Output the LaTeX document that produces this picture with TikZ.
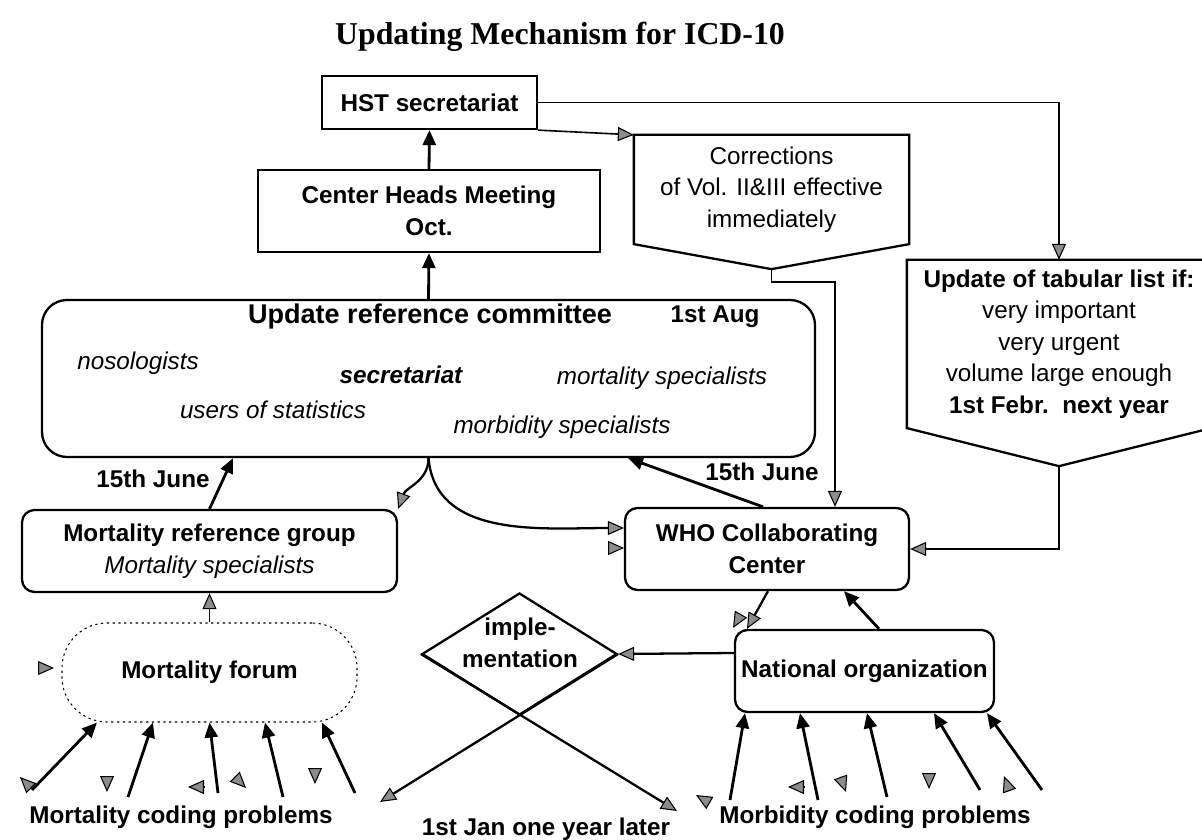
\documentclass[tikz,border=0pt]{standalone}
\usepackage{fontspec}
\setmainfont{Liberation Sans}
\newfontfamily\titlefont{Liberation Serif}
\usetikzlibrary{arrows.meta,shapes.geometric,calc}
\tikzset{box/.style={
            draw,
            line width=1.3pt,
            inner sep=0pt,
            align=center,
            font=\bfseries
        },
        roundbox/.style={
            box,
            rounded corners=0.25cm
        },
        txt/.style={
            inner sep=0pt,
            align=center,
            font=\bfseries
        },
        member/.style={
            inner sep=0pt,
            font=\itshape
        },
        arrowline/.style={
            line width=1.6pt,
            -{Triangle[length=3mm,width=2.6mm]}
        },
        hatchline/.style={
            line width=0.9pt,
            -{Triangle[length=3.2mm,width=2.8mm,fill=black!45,line width=0.6pt]}
        }
    }

\begin{document}
\fontsize{13.8}{18}\selectfont
\begin{tikzpicture}[x=0.2mm,y=0.2mm]
        \useasboundingbox (0,0) rectangle (1202,-840);
        \node[font=\titlefont\fontsize{18.1}{22}\selectfont\bfseries] (title) at (560,-37) {Updating Mechanism for ICD-10};

        % top of the chain
        \node[box,minimum width=4.3cm,minimum height=1.06cm] (hst) at (429.5,-102.5) {HST secretariat};
        \node[box,minimum width=6.84cm,minimum height=1.64cm] (chm) at (429,-211) {Center Heads Meeting\\Oct.};
        \node[box,draw=none,font=\mdseries,minimum width=5.46cm,minimum height=2.14cm] (corr) at (771.5,-189.5) {Corrections\\of Vol. II\&III effective\\immediately};
        \coordinate (corrtip) at ([yshift=-0.5cm]corr.south);
        \draw[line width=1.3pt] (corr.north west) -- (corr.north east) -- (corr.south east) -- (corrtip) -- (corr.south west) -- cycle;
        \node[box,draw=none,font=\mdseries,minimum width=6.04cm,minimum height=3.32cm] (tab) at (1059,-344) {\textbf{Update of tabular list if:}\\very important\\very urgent\\volume large enough\\\textbf{1st Febr.\ \ next year}};
        \coordinate (tabtip) at ([yshift=-0.76cm]tab.south);
        \draw[line width=1.3pt] (tab.north west) -- (tab.north east) -- (tab.south east) -- (tabtip) -- (tab.south west) -- cycle;

        % committee
        \node[roundbox,rounded corners=0.5cm,minimum width=15.46cm,minimum height=3.14cm] (urc) at (428.5,-378.5) {};
        \node[txt,font=\bfseries\fontsize{15.4}{18}\selectfont] (urctitle) at (430,-317) {Update reference committee};
        \node[txt] (urcdate) at (715,-317) {1st Aug};
        \node[member] (noso) at (138,-363) {nosologists};
        \node[member,font=\bfseries\itshape] (secr) at (401,-375) {secretariat};
        \node[member] (mort) at (662,-378) {mortality specialists};
        \node[member] (users) at (273,-410) {users of statistics};
        \node[member] (morb) at (562,-427) {morbidity specialists};

        \node[roundbox,minimum width=7.5cm,minimum height=1.64cm] (mrg) at (209.5,-551) {Mortality reference group\\{\mdseries\itshape Mortality specialists}};
        \node[roundbox,dotted,line width=0.6pt,rounded corners=0.9cm,minimum width=5.9cm,minimum height=1.98cm] (forum) at (209.5,-672.5) {Mortality forum};
        \node[roundbox,minimum width=5.68cm,minimum height=1.64cm] (who) at (767,-549) {WHO Collaborating\\Center};
        \node[roundbox,minimum width=5.18cm,minimum height=1.64cm] (nat) at (864.5,-671) {National organization};
        \node[diamond,draw,line width=1.3pt,inner sep=0pt,minimum width=3.9cm,minimum height=2.44cm] (impl) at (519.5,-654) {};
        \node[txt] (impltext) at (520,-643) {imple-\\mentation};

        \node[txt] (junemrg) at (153,-479) {15th June};
        \node[txt] (junewho) at (762,-472) {15th June};
        \node[txt] (mortprob) at (181,-817) {Mortality coding problems};
        \node[txt] (morbprob) at (875,-817) {Morbidity coding problems};
        \node[txt] (later) at (546,-829) {1st Jan one year later};

        % connectors
        \draw[arrowline] (chm.north) -- (hst.south);
        \draw[arrowline] (urc.north) -- (chm.south);
        \draw[hatchline] (hst.east) -| (tab.north);
        \draw[hatchline] (hst.south east) -- (corr.north west);
        \coordinate (corrbend) at (835,-282);
        \draw[hatchline] (corrtip) |- (corrbend) -- (corrbend |- who.north);
        \draw[hatchline] (tabtip) |- (who.east);
        \draw[arrowline] (mrg.north) -- ([xshift=-3.91cm]urc.south);
        \draw[arrowline] ([xshift=-0.08cm]who.north) -- ([xshift=3.99cm]urc.south);
        \draw[hatchline,line width=1.3pt] (urc.south) to[out=-90,in=70] (mrg.north east);
        \draw[hatchline,line width=1.3pt] (urc.south) to[out=-85,in=180] ([yshift=0.42cm]who.west);
        \draw[hatchline] (forum.north) -- (mrg.south);
        \draw[hatchline,line width=1.3pt] ([yshift=0.36cm]nat.west) -- (impl.east);
        \draw[hatchline,line width=1.3pt] ([xshift=0.02cm]who.south) -- ([xshift=-2.35cm]nat.north);
        \draw[arrowline] ([xshift=0.29cm]nat.north) -- ([xshift=1.54cm]who.south);
        \coordinate (janleft) at (380,-802);
        \coordinate (janright) at (677,-811);
        \draw[hatchline,line width=1.3pt] (impl.east) -- (janleft);
        \draw[hatchline,line width=1.3pt] (impl.west) -- (janright);

        \foreach \i/\sx/\sy/\ex in {1/32/790/-2.25, 2/128/797/-1.13, 3/218/793/0, 4/283/797/1.11, 5/355/793/2.25}{
            \coordinate (mortsrc\i) at (\sx,-\sy);
            \draw[arrowline] (mortsrc\i) -- ([xshift=\ex cm]forum.south);
        }
        \foreach \i/\sx/\sy/\ex in {1/730/800/-2.39, 2/818/800/-1.29, 3/887/797/0.05, 4/980/790/1.39, 5/1042/790/2.45}{
            \coordinate (morbsrc\i) at (\sx,-\sy);
            \draw[arrowline] (morbsrc\i) -- ([xshift=\ex cm]nat.south);
        }

        % loose tips
        \foreach \tx/\ty/\ta in {54/668/0, 20/777/135, 107/792/-90, 188/787/180, 246/788/-45, 315/784/-90, 696/795/150, 788/787/180, 846/792/-70, 929/789/-90, 1004/776/110, 733/628/-120, 624/548/0}{
            \draw[hatchline] (\tx,-\ty) ++({\ta+180}:16) -- (\tx,-\ty);
        }
    \end{tikzpicture}
\end{document}
